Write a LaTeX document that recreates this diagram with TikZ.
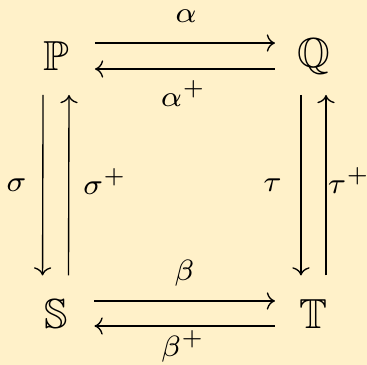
\documentclass[tikz,border=0pt]{standalone}
\usepackage{amssymb}
\usetikzlibrary{arrows.meta}
\definecolor{bg}{RGB}{255,241,201}
\begin{document}
\begin{tikzpicture}[x=0.2381pt,y=-0.2381pt,
  obj/.style={inner sep=0pt,outer sep=0pt,minimum size=18.33pt},
  lab/.style={inner sep=0pt,anchor=base,font=\scriptsize},
  arr/.style={-{Computer Modern Rightarrow[scale=0.85]},line width=0.32pt}]
\fill[bg] (0,0) rectangle (367,365);
\useasboundingbox (0,0) rectangle (367,365);
\node[obj] (P) at (56.5,56.5) {$\mathbb{P}$};
\node[obj] (Q) at (313.5,56.5) {$\mathbb{Q}$};
\node[obj] (S) at (56,314) {$\mathbb{S}$};
\node[obj] (T) at (313.5,314) {$\mathbb{T}$};
% horizontal arrows
\draw[arr] ([yshift=3.2pt]P.east) -- ([yshift=3.2pt]Q.west);
\draw[arr] ([yshift=-2.98pt]Q.west) -- ([yshift=-2.98pt]P.east);
\draw[arr] ([yshift=3.1pt]S.east) -- ([yshift=3.1pt]T.west);
\draw[arr] ([yshift=-2.86pt]T.west) -- ([yshift=-2.86pt]S.east);
% vertical arrows
\draw[arr] ([xshift=-3.2pt]P.south) -- ([xshift=-3.2pt]S.north);
\draw[arr] ([xshift=2.98pt]S.north) -- ([xshift=2.98pt]P.south);
\draw[arr] ([xshift=-2.98pt]Q.south) -- ([xshift=-2.98pt]T.north);
\draw[arr] ([xshift=2.98pt]T.north) -- ([xshift=2.98pt]Q.south);
% labels
\node[lab] (la) at (186,23) {$\alpha$};
\node[lab] (lap) at (183.5,107) {$\alpha^+$};
\node[lab] (lb) at (184.5,281) {$\beta$};
\node[lab] (lbp) at (183,357) {$\beta^+$};
\node[lab] (ls) at (16.5,192) {$\sigma$};
\node[lab] (lsp) at (105,195) {$\sigma^+$};
\node[lab] (lt) at (272.5,192) {$\tau$};
\node[lab] (ltp) at (349,194) {$\tau^+$};
\end{tikzpicture}
\end{document}
